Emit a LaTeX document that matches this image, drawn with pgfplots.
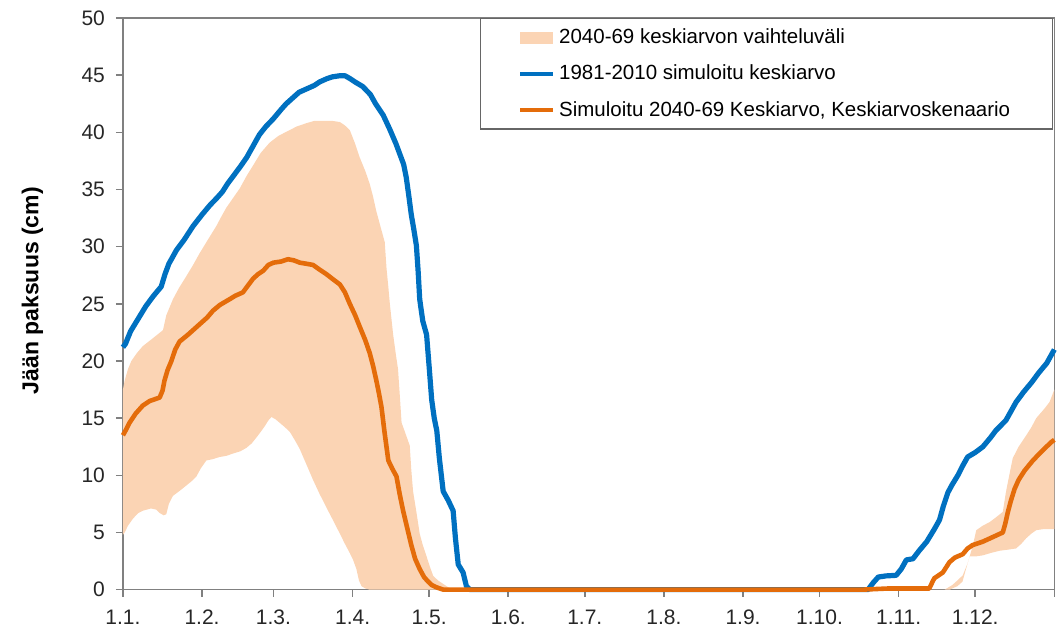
\documentclass[border=0pt]{standalone}
\usepackage{fontspec}
\setmainfont{Liberation Sans}
\usepackage{pgfplots}
\pgfplotsset{compat=1.18}
\usepgfplotslibrary{fillbetween}

\definecolor{icebl}{RGB}{0,112,192}
\definecolor{iceor}{RGB}{228,108,10}
\definecolor{peach}{RGB}{251,212,180}
\definecolor{axgray}{RGB}{128,128,128}

% Jaan paksuus: vuorokausi (0 = 1.1.), cm
\pgfplotstableread{
d y
0 21.2
1 21.5
3 22.6
6 23.7
9 24.8
12 25.7
15 26.5
16.5 27.6
18 28.5
21 29.7
24 30.6
27.5 31.8
31 32.8
34 33.6
37 34.3
39 34.8
41 35.5
43 36.1
46 37.0
48.5 37.8
51 38.8
53.5 39.8
56 40.5
59 41.2
62 42.0
64 42.5
67 43.1
69 43.5
72 43.8
75 44.1
77 44.4
80 44.7
82 44.85
85 44.95
87 44.95
89 44.7
91 44.4
94 44.0
97 43.3
99 42.5
102 41.5
104.5 40.3
107 39.0
108.5 38.1
110 37.2
111 36.1
112 34.5
113 32.8
114 31.5
115 30.1
115.7 27.8
116.3 25.4
117.5 23.5
119 22.3
120 19.5
121 16.6
122 15.0
123 13.9
124 11.5
125.5 8.6
127.5 7.8
129.4 6.9
130.3 4.5
131.4 2.2
133.3 1.5
134.6 0.3
136 0
292 0
294 0.6
296 1.1
299 1.2
303 1.25
305 1.8
307 2.6
309.6 2.7
312 3.4
315 4.2
318 5.3
320 6.1
321.5 7.3
323.3 8.5
325 9.2
327.2 10.0
329 10.8
331 11.6
334 12.0
337 12.5
340 13.3
342 13.9
346 14.8
348 15.6
350 16.4
353 17.3
356 18.1
359 19.0
362 19.8
365 21.0
}\simnyt

\pgfplotstableread{
d y
0 13.5
1 13.9
2.6 14.6
5 15.4
7.8 16.1
10.5 16.5
14.4 16.8
15.5 17.4
16.3 18.3
17.5 19.2
19 20.0
20.5 21.0
22.2 21.7
25.5 22.3
28 22.8
30 23.2
33 23.8
35.3 24.4
38 24.9
41.8 25.4
44 25.7
47 26.0
49 26.6
51 27.2
53 27.6
55 27.9
57 28.4
59 28.6
62 28.7
64.7 28.9
67 28.8
69.3 28.6
72 28.5
74.5 28.4
77 28.0
79.7 27.6
82 27.2
85 26.7
87 26.0
88.9 25.0
91 24.0
92.8 23.0
95 21.8
96.7 20.7
98 19.6
99.3 18.3
100.3 17.2
101.3 16.0
102.5 13.8
104 11.3
105.5 10.6
107.2 9.9
108.5 8.3
109.8 6.9
111.5 5.3
113 3.9
114.5 2.7
116.3 1.8
118 1.1
119.6 0.7
121 0.4
122.9 0.2
125.5 0
290 0
300 0.1
310 0.1
316 0.1
317.5 0.8
318 1.0
321.3 1.5
323.9 2.4
326 2.8
329.1 3.1
331 3.6
333 3.9
337 4.2
340.9 4.6
344.8 5.0
345.8 5.8
346.8 6.8
348 7.8
349.4 8.8
351 9.6
353.3 10.4
356.6 11.3
360.5 12.2
363.8 12.9
365 13.1
}\simtul

\pgfplotstableread{
d y
0 17.5
0.7 18.3
2 19.3
3.3 20.0
5.5 20.7
7.8 21.3
11.8 22.0
15.7 22.7
17 24.0
19.6 25.4
22 26.4
24.8 27.4
27.5 28.4
30 29.4
33 30.5
36.6 31.8
38.5 32.6
40.5 33.4
43 34.2
45.8 35.1
48.5 36.2
51 37.1
54 38.2
57.5 39.1
61 39.7
65.4 40.2
68 40.5
71.9 40.8
75 41.0
78.4 41.0
82 41.0
85 40.9
87 40.6
88.9 40.2
91 39.0
92.8 37.8
95 36.6
96.7 35.5
98 34.4
99.3 33.1
101 31.7
102.6 30.4
103.3 28.1
104 26.5
104.6 25.0
105.9 22.3
107 20.5
107.8 19.3
108.5 17.0
109.2 14.6
110.5 13.8
112.4 12.6
113 10.5
113.7 8.6
115 6.8
116.3 4.9
117.5 3.9
119 2.9
120.3 2.0
121.6 1.2
123.5 0.8
125.5 0.5
127.5 0.2
129.4 0
322 0
325 0.4
327 0.8
329.1 1.25
331 2.3
333 3.8
334.4 5.2
337 5.6
339.6 5.9
342 6.3
344.8 6.8
346 8.5
347.5 10.2
348.7 11.5
351 12.5
354 13.5
356 14.2
357.9 15.0
361 15.8
363.1 16.4
365 17.5
}\ylaraja

\pgfplotstableread{
d y
0 4.8
0.7 5.0
2 5.6
3.9 6.2
6 6.7
7.8 6.9
11 7.1
13 7.0
14.4 6.7
16 6.5
17 6.6
18 7.5
19.6 8.2
22 8.6
24.8 9.1
27 9.5
28.8 9.9
30.5 10.6
32.7 11.3
35 11.4
37.9 11.6
40.5 11.7
43.1 11.9
46 12.1
48.4 12.4
50.5 12.8
52.3 13.3
54 13.8
55.6 14.3
57 14.8
58.2 15.1
59.8 14.9
61.4 14.6
63.5 14.2
65.4 13.8
67.3 13.1
69.3 12.3
72 10.9
74.5 9.6
77 8.4
79.7 7.2
82.5 6.0
85 4.9
87 4.0
88.9 3.2
90.2 2.6
91.5 1.8
92.5 0.8
93.5 0.3
95 0.1
96.7 0
324 0
327 0.3
329 0.7
330.5 1.9
331.8 2.9
334 2.9
337 3.0
340 3.2
343.5 3.4
347 3.5
350 3.6
352 4.0
354 4.5
356 4.9
357.9 5.2
361 5.3
365 5.3
}\alaraja

\begin{document}
\begin{tikzpicture}
\begin{axis}[
  scale only axis, width=466pt, height=286pt,
  anchor=south west, at={(0,0)},
  xmin=0, xmax=365, ymin=0, ymax=50,
  xtick={0,31,59,90,120,151,181,212,243,273,304,334,365},
  xticklabels={1.1.,1.2.,1.3.,1.4.,1.5.,1.6.,1.7.,1.8.,1.9.,1.10.,1.11.,1.12.,{}},
  ytick={0,5,...,50},
  /pgf/number format/assume math mode=true,
  tick label style={font=\fontsize{10.5}{12}\selectfont, black!85},
  yticklabel style={xshift=-2pt},
  xticklabel style={yshift=-3pt},
  tick align=outside, tick pos=left,
  major tick length=3.5pt,
  every tick/.style={axgray, line width=0.8pt},
  axis line style={axgray, line width=0.8pt},
  ylabel={Jään paksuus (cm)},
  ylabel style={font=\bfseries\fontsize{11.5}{13}\selectfont, at={(rel axis cs:0,0.523)}, anchor=center, yshift=45.25pt},
  clip=false,
  legend cell align=left,
  legend style={at={(rel axis cs:0.383,1)}, anchor=north west, draw=black!60, line width=0.6pt,
    font=\fontsize{10.25}{12}\selectfont, inner xsep=19pt, inner ysep=3pt, row sep=5.25pt},
  legend image code/.code={\draw[#1, line width=2pt] (0pt,0pt) -- (16.5pt,0pt);},
]
\addplot[draw=none, name path=ylaraja, forget plot] table[x=d, y=y] {\ylaraja};
\addplot[draw=none, name path=alaraja, forget plot] table[x=d, y=y] {\alaraja};
\addplot[fill=peach, draw=none,
  legend image code/.code={\fill[peach] (0pt,-3pt) rectangle (16.5pt,3pt);}]
  fill between[of=ylaraja and alaraja];
\addlegendentry{2040-69 keskiarvon vaihteluväli}
\addplot[icebl, line width=2.6pt, line join=round] table[x=d, y=y] {\simnyt};
\addlegendentry{1981-2010 simuloitu keskiarvo}
\addplot[iceor, line width=2.3pt, line join=round] table[x=d, y=y] {\simtul};
\addlegendentry{Simuloitu 2040-69 Keskiarvo, Keskiarvoskenaario}
\end{axis}
\path[use as bounding box] (-61.5pt,-19.5pt) rectangle (469pt,295pt);
\end{tikzpicture}
\end{document}
